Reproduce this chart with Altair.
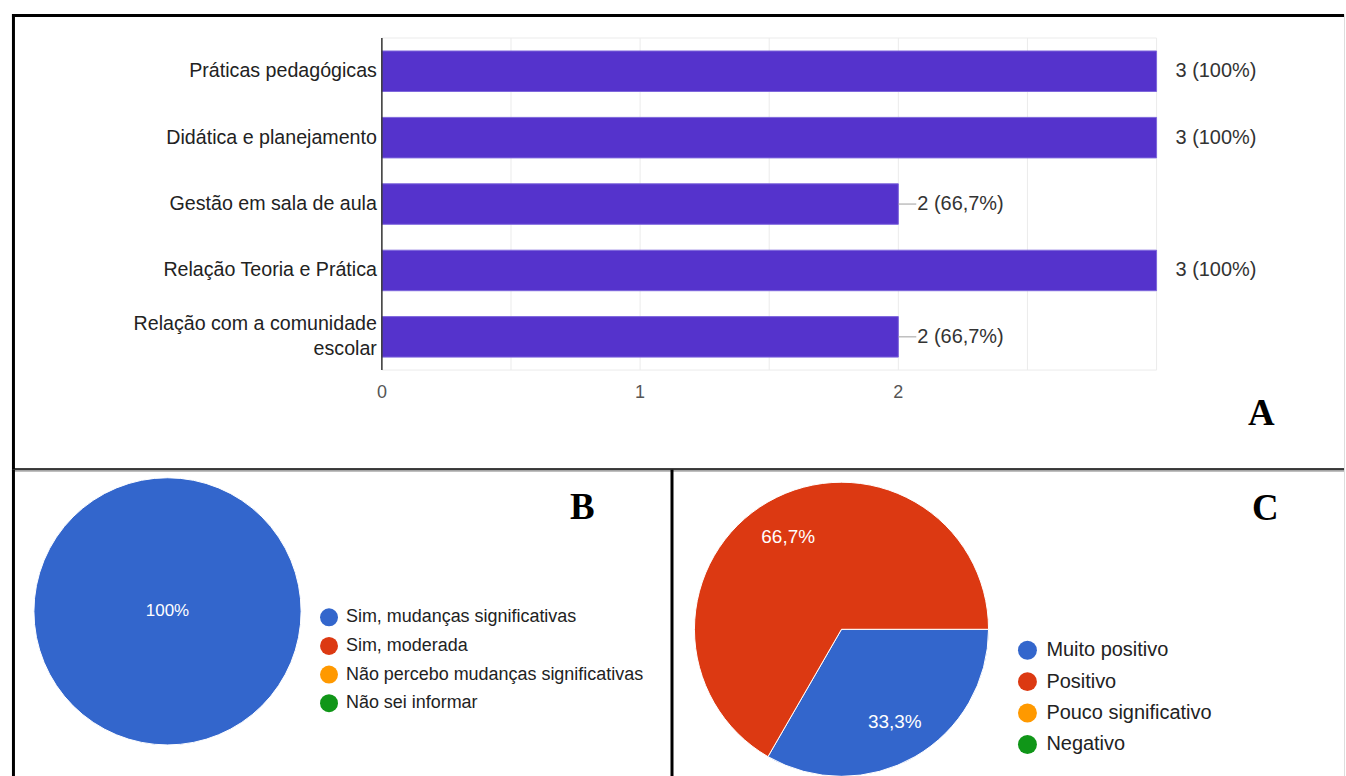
import math
import altair as alt
import pandas as pd

FONT = "Liberation Sans, Arial, sans-serif"
SERIF = "Liberation Serif, Times New Roman, serif"

# ---------------- data ----------------
# Panel A
temas = [
    "Práticas pedagógicas",
    "Didática e planejamento",
    "Gestão em sala de aula",
    "Relação Teoria e Prática",
    "Relação com a comunidade escolar",
]
contagens = [3, 3, 2, 3, 2]
percentuais = ["100%", "100%", "66,7%", "100%", "66,7%"]
x_grid = [0, 0.5, 1, 1.5, 2, 2.5, 3]
x_tick_labels = [0, 1, 2]

# Panel B
opcoes_b = [
    "Sim, mudanças significativas",
    "Sim, moderada",
    "Não percebo mudanças significativas",
    "Não sei informar",
]
valores_b = [3, 0, 0, 0]
rotulos_b = ["100%", "", "", ""]

# Panel C
opcoes_c = ["Muito positivo", "Positivo", "Pouco significativo", "Negativo"]
valores_c = [1, 2, 0, 0]
rotulos_c = ["33,3%", "66,7%", "", ""]

cores = ["#3366cc", "#dc3912", "#ff9900", "#109618"]
letras = ["A", "B", "C"]

# ---------------- layout ----------------
A_W, A_H = 1336, 457
B_W, C_W, BC_H = 662, 674, 308
PLOT_TOP, PLOT_BOTTOM = 24, 357
LINE_H = 25
BORDER = dict(color="black", strokeWidth=3)
THETA_RANGE = [math.pi / 2, math.pi / 2 + 2 * math.pi]


def one_row(**kw):
    return pd.DataFrame({k: [v] for k, v in kw.items()})


def border(x, x2, y, y2):
    return alt.Chart(one_row(k=0)).mark_rule(**BORDER).encode(
        x=alt.value(x), x2=alt.value(x2), y=alt.value(y), y2=alt.value(y2)
    )


def letter(txt, x, y):
    return alt.Chart(one_row(letra=txt)).mark_text(
        font=SERIF, fontWeight="bold", fontSize=37, color="black",
        align="center", baseline="alphabetic",
    ).encode(text="letra:N", x=alt.value(x), y=alt.value(y))


# ---------------- Panel A ----------------
df_a = pd.DataFrame({"tema": temas, "n": contagens, "pct": percentuais})
df_grid = pd.DataFrame({"v": x_grid})
df_ticks = pd.DataFrame({"v": x_tick_labels})

x_scale = alt.Scale(domain=[0, 3], range=[371, 1148], nice=False)
y_scale = alt.Scale(domain=temas, range=[PLOT_TOP, PLOT_BOTTOM],
                    paddingInner=0.39, paddingOuter=0.195)


def X(field):
    return alt.X(field, scale=x_scale, axis=None)


def Y(field):
    return alt.Y(field, scale=y_scale, axis=None)


grid = alt.Chart(df_grid).mark_rule(color="#ebebeb", strokeWidth=1).encode(
    x=X("v:Q"), y=alt.value(PLOT_TOP), y2=alt.value(PLOT_BOTTOM)
)
frame_base = alt.Chart(df_grid).transform_aggregate(lo="min(v)", hi="max(v)")
frame_top = frame_base.mark_rule(color="#ebebeb", strokeWidth=1).encode(
    x=X("lo:Q"), x2="hi:Q", y=alt.value(PLOT_TOP)
)
frame_bottom = frame_base.mark_rule(color="#ebebeb", strokeWidth=1).encode(
    x=X("lo:Q"), x2="hi:Q", y=alt.value(PLOT_BOTTOM)
)
y_domain = frame_base.mark_rule(color="#333333", strokeWidth=1.5).encode(
    x=X("lo:Q"), y=alt.value(PLOT_TOP), y2=alt.value(PLOT_BOTTOM)
)
tick_text = alt.Chart(df_ticks).mark_text(
    fontSize=18, color="#555555", align="center", baseline="middle"
).encode(x=X("v:Q"), y=alt.value(380), text="v:Q")

base_a = alt.Chart(df_a)
bars = base_a.mark_bar(color="#5533cc", stroke="#7d66dc", strokeWidth=1).encode(
    x=X("n:Q"), y=Y("tema:N")
)

wrapped = base_a.transform_calculate(
    longo="length(datum.tema) > 30",
    cat="length(datum.tema) > 30 ? "
        "substring(datum.tema, 0, lastindexof(datum.tema, ' ')) + '\\n' + "
        "substring(datum.tema, lastindexof(datum.tema, ' ') + 1) : datum.tema",
)
label_style = dict(align="right", baseline="middle", fontSize=19.7, color="#222222",
                   lineBreak="\n", lineHeight=LINE_H)
cat_single = wrapped.transform_filter("!datum.longo").mark_text(**label_style).encode(
    x=alt.value(366), y=Y("tema:N"), text="cat:N"
)
cat_multi = wrapped.transform_filter("datum.longo").mark_text(
    dy=-LINE_H / 2, **label_style
).encode(x=alt.value(366), y=Y("tema:N"), text="cat:N")

leaders = base_a.transform_joinaggregate(maxn="max(n)").transform_filter(
    "datum.n < datum.maxn"
).mark_rule(color="#9e9e9e", strokeWidth=1, x2Offset=18).encode(
    x=X("n:Q"), x2="n:Q", y=Y("tema:N")
)

values_txt = base_a.transform_calculate(
    lbl="datum.n + ' (' + datum.pct + ')'"
).mark_text(align="left", baseline="middle", dx=19, fontSize=20, color="#333333").encode(
    x=X("n:Q"), y=Y("tema:N"), text="lbl:N"
)

chart_a = alt.layer(
    grid, frame_top, frame_bottom, bars, y_domain, tick_text, cat_single, cat_multi,
    leaders, values_txt,
    border(0, A_W, 1.5, 1.5), border(1.5, 1.5, 0, A_H), border(0, A_W, A_H, A_H),
    letter(letras[0], 1253, 412),
).properties(width=A_W, height=A_H)


# ---------------- pies ----------------
def pie(opcoes, valores, rotulos, cx, cy, r, label_r, lab_size, leg):
    df = pd.DataFrame({"opcao": opcoes, "valor": valores, "rotulo": rotulos,
                       "ordem": list(range(len(opcoes)))})
    color = alt.Color(
        "opcao:N", scale=alt.Scale(domain=opcoes, range=cores),
        legend=alt.Legend(
            orient="none", legendX=leg["x"], legendY=leg["y"], title=None,
            symbolType="circle", symbolSize=leg["size"], symbolStrokeWidth=0,
            labelFontSize=leg["font"], labelOffset=leg["offset"], rowPadding=leg["row"],
            padding=0, labelColor="#222222", labelLimit=500,
        ),
    )
    theta = alt.Theta("valor:Q", stack=True, scale=alt.Scale(range=THETA_RANGE))
    base = alt.Chart(df).transform_filter("datum.valor > 0")
    arcs = base.mark_arc(radius=r, stroke="white", strokeWidth=1).encode(
        theta=theta, color=color, order=alt.Order("ordem:Q"),
        x=alt.value(cx), y=alt.value(cy),
    )
    labels = base.mark_text(radius=label_r, color="white", fontSize=lab_size,
                            align="center", baseline="middle").encode(
        theta=theta, order=alt.Order("ordem:Q"), text="rotulo:N",
        x=alt.value(cx), y=alt.value(cy),
    )
    return arcs, labels


arcs_b, labels_b = pie(opcoes_b, valores_b, rotulos_b, 156, 142, 134, 0, 17,
                       dict(x=309, y=139, size=324, font=18, offset=8, row=10.7))
chart_b = alt.layer(
    arcs_b, labels_b,
    border(1.5, 1.5, 0, BC_H),
    letter(letras[1], 572, 49),
).properties(width=B_W, height=BC_H)

arcs_c, labels_c = pie(opcoes_c, valores_c, rotulos_c, 170, 160, 147.5, 107, 19,
                       dict(x=346.5, y=171, size=361, font=20, offset=9, row=11.5))
chart_c = alt.layer(
    arcs_c, labels_c,
    border(0, 0, 0, BC_H),
    letter(letras[2], 595, 50),
).properties(width=C_W, height=BC_H)

bottom = alt.hconcat(chart_b, chart_c, spacing=0, bounds="flush").resolve_scale(
    color="independent", theta="independent"
)

chart = alt.vconcat(chart_a, bottom, spacing=0, bounds="flush").resolve_scale(
    color="independent", theta="independent"
).properties(
    padding={"left": 10, "top": 11, "right": 0, "bottom": 0},
    background="white",
).configure_view(stroke=None).configure(font=FONT)

chart.save("out.html", embed_options={"renderer": "svg", "actions": False})
